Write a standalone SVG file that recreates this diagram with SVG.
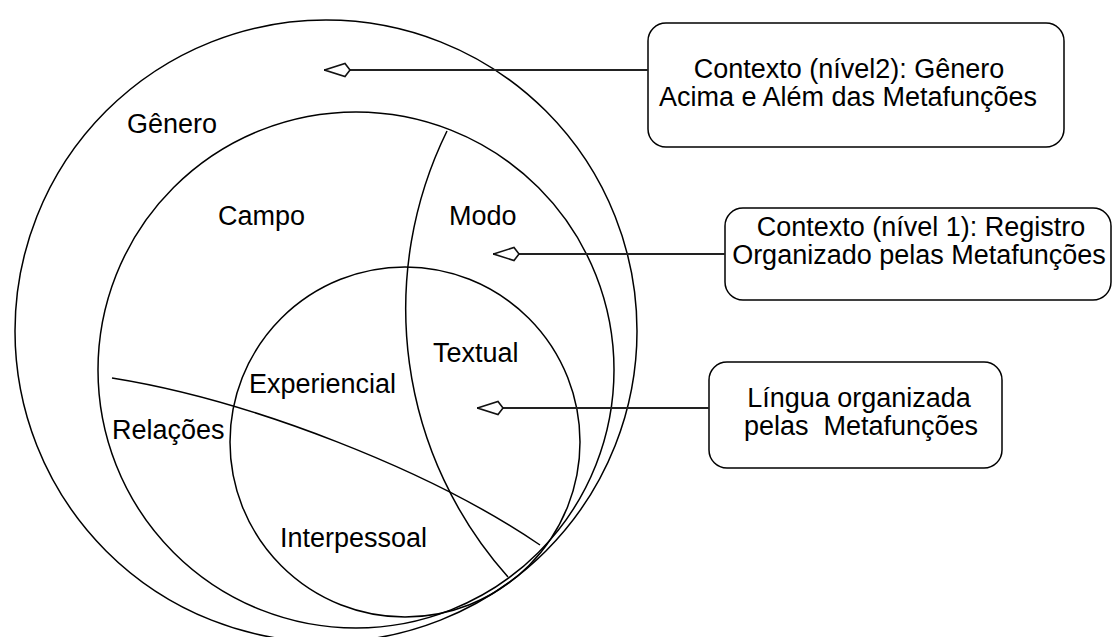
<svg xmlns="http://www.w3.org/2000/svg" width="1115" height="637" viewBox="0 0 1115 637">
<defs>
<style>
.c{fill:none;stroke:#000;stroke-width:1.5}
.b{fill:#fff;stroke:#000;stroke-width:1.5}
.t{font-family:"Liberation Sans",Arial,sans-serif;font-size:27px;fill:#000}
.m{text-anchor:middle}
.k{stroke:#222;stroke-width:1.8;fill:none}
</style>
<marker id="kite" markerUnits="userSpaceOnUse" markerWidth="30" markerHeight="16" refX="0" refY="8" orient="auto" viewBox="0 0 30 16">
<path d="M0.5,8 L21,1.5 L26,8 L21,14.5 Z" fill="#fff" stroke="#111" stroke-width="1.6" stroke-linejoin="miter"/>
</marker>
</defs>
<rect width="1115" height="637" fill="#fff"/>
<g id="genero">
<circle class="c" cx="326" cy="331" r="311"/>
<text class="t" x="127" y="133">Gênero</text>
</g>
<g id="campo">
<circle class="c" cx="356" cy="370" r="258"/>
<text class="t" x="218" y="225">Campo</text>
</g>
<g id="modo">
<path class="c" d="M447,131 A403,403 0 0,0 508,577"/>
<text class="t" x="449" y="225">Modo</text>
</g>
<g id="metafuncoes">
<circle class="c" cx="405" cy="442" r="175"/>
<text class="t" x="433" y="362">Textual</text>
<text class="t" x="249" y="393">Experiencial</text>
<text class="t" x="280" y="547">Interpessoal</text>
</g>
<g id="relacoes">
<path class="c" d="M112,378 C250,400 430,470 540,545"/>
<text class="t" x="112" y="439">Relações</text>
</g>
<g id="box-nivel2">
<rect class="b" x="648" y="23" width="416" height="124" rx="18"/>
<text class="t m" x="849" y="78">Contexto (nível2): Gênero</text>
<text class="t m" x="848" y="106">Acima e Além das Metafunções</text>
</g>
<g id="box-nivel1">
<rect class="b" x="725" y="208" width="386" height="92" rx="18"/>
<text class="t m" x="921" y="236">Contexto (nível 1): Registro</text>
<text class="t m" x="919" y="264">Organizado pelas Metafunções</text>
</g>
<g id="box-lingua">
<rect class="b" x="709" y="362" width="293" height="106" rx="18"/>
<text class="t m" x="859" y="407">Língua organizada</text>
<text class="t m" x="861" y="435" xml:space="preserve">pelas  Metafunções</text>
</g>
<g id="connectors">
<path class="k" d="M324,70 L648,70" marker-start="url(#kite)"/>
<path class="k" d="M493,254 L725,254" marker-start="url(#kite)"/>
<path class="k" d="M477,408 L709,408" marker-start="url(#kite)"/>
</g>
</svg>
